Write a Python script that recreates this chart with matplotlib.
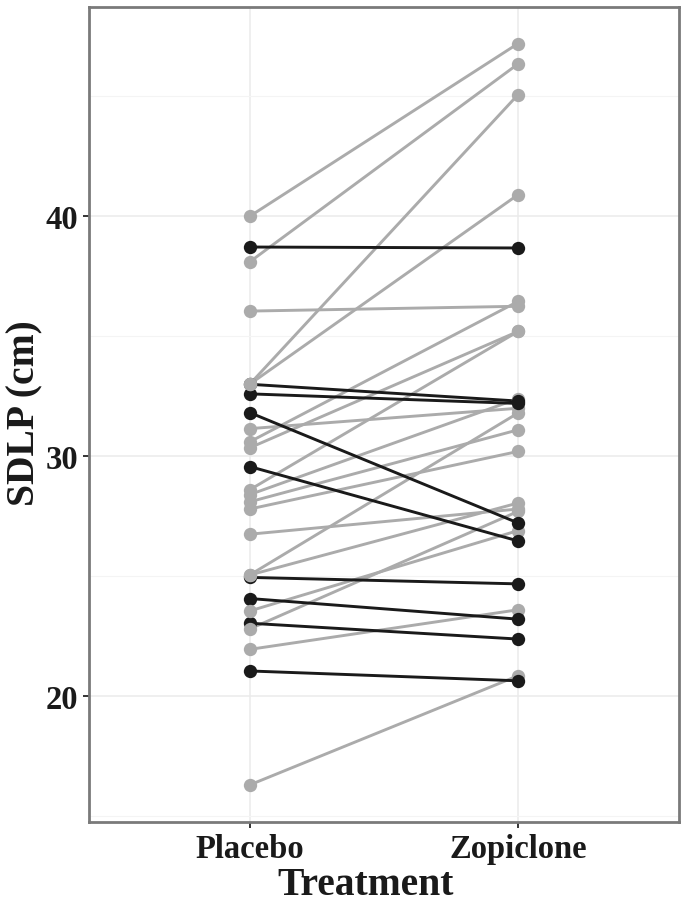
import matplotlib
matplotlib.use("Agg")
import matplotlib.pyplot as plt
from matplotlib.ticker import MultipleLocator

# ---- data -------------------------------------------------------------
treatments = ["Placebo", "Zopiclone"]

# gray subjects (SDLP increased under zopiclone)
gray_placebo   = [40.0, 38.1, 33.0, 33.0, 36.05, 30.6, 30.35, 31.15, 28.6, 28.4, 28.1, 27.8, 26.75, 25.05, 25.05, 23.55, 22.8, 21.95, 16.3]
gray_zopiclone = [47.2, 46.35, 45.07, 40.9, 36.25, 36.45, 35.2, 32.0, 35.2, 32.4, 31.1, 30.2, 27.8, 31.8, 28.05, 26.9, 27.7, 23.6, 20.85]

# black subjects (SDLP decreased under zopiclone)
black_placebo   = [38.72, 33.0, 32.6, 31.82, 29.57, 24.95, 24.07, 23.04, 21.05]
black_zopiclone = [38.68, 32.3, 32.2, 27.22, 26.47, 24.68, 23.21, 22.38, 20.64]

y_ticks = [20, 30, 40]
x_label = "Treatment"
y_label = "SDLP (cm)"

# ---- style -------------------------------------------------------------
GRAY = "#ababab"
BLACK = "#1a1a1a"
FONT = ["Liberation Serif", "DejaVu Serif"]

W, H = 687, 904
fig = plt.figure(figsize=(W / 100, H / 100), dpi=100)
L, R, B, T = 88.7, 679.0, 823.0, 7.5
ax = fig.add_axes([L / W, 1 - B / H, (R - L) / W, (B - T) / H])

xpos = [1, 2]
lw = 2.1
ms = 9.6

for p, z in zip(gray_placebo, gray_zopiclone):
    ax.plot(xpos, [p, z], color=GRAY, lw=lw, solid_capstyle="butt", zorder=2)
for p, z in zip(black_placebo, black_zopiclone):
    ax.plot(xpos, [p, z], color=BLACK, lw=lw, solid_capstyle="butt", zorder=2)

# placebo points: black under gray; zopiclone points: gray under black
ax.plot([xpos[0]] * len(black_placebo), black_placebo, "o", color=BLACK, ms=ms, mec="none", zorder=3)
ax.plot([xpos[0]] * len(gray_placebo), gray_placebo, "o", color=GRAY, ms=ms, mec="none", zorder=4)
ax.plot([xpos[1]] * len(gray_zopiclone), gray_zopiclone, "o", color=GRAY, ms=ms, mec="none", zorder=3)
ax.plot([xpos[1]] * len(black_zopiclone), black_zopiclone, "o", color=BLACK, ms=ms, mec="none", zorder=4)

allv = gray_placebo + gray_zopiclone + black_placebo + black_zopiclone
lo, hi = min(allv), max(allv)
pad = (hi - lo) * 0.05
ax.set_ylim(lo - pad, hi + pad)
ax.set_xlim(0.4, 2.6)

ax.set_xticks(xpos)
ax.set_xticklabels(treatments)
ax.set_yticks(y_ticks)
ax.yaxis.set_minor_locator(MultipleLocator(5))
ax.tick_params(axis="y", which="minor", length=0)

ax.grid(True, which="major", color="#ebebeb", lw=1.1, zorder=0)
ax.grid(True, which="minor", axis="y", color="#f4f4f4", lw=0.8, zorder=0)
ax.set_axisbelow(True)

for s in ax.spines.values():
    s.set_color("#7a7a7a")
    s.set_linewidth(2.0)

ax.tick_params(axis="both", which="major", length=4.3, width=1.4, color="#333333", pad=3.5)
for lab in ax.get_xticklabels() + ax.get_yticklabels():
    lab.set_fontfamily(FONT)
    lab.set_fontweight("bold")
    lab.set_fontsize(23.5)
    lab.set_color("#1a1a1a")

fig.text(366 / W, 1 - 895 / H, x_label, ha="center", va="baseline",
         fontsize=28.5, fontweight="bold", family=FONT, color="#1a1a1a")
fig.text(25 / W, 1 - 413 / H, y_label, ha="center", va="center", rotation=90,
         fontsize=28.5, fontweight="bold", family=FONT, color="#1a1a1a")

fig.savefig("out.png", dpi=100)
